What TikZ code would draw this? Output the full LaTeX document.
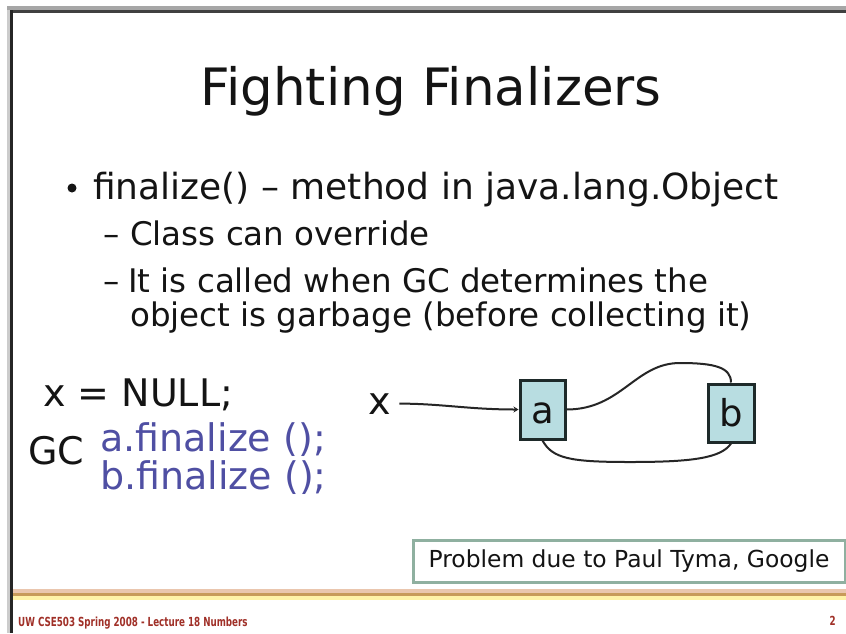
\documentclass[tikz,border=0pt]{standalone}
\usepackage{fontspec}
\setmainfont{DejaVu Sans}
\newfontfamily\footf[FakeStretch=0.7]{DejaVu Sans}
\usetikzlibrary{arrows.meta}
\definecolor{textc}{HTML}{141414}
\definecolor{codeblue}{HTML}{4F4FA3}
\definecolor{boxfill}{HTML}{B8DDE1}
\definecolor{boxline}{HTML}{1E2A2A}
\definecolor{probline}{HTML}{8FB0A0}
\definecolor{tan}{HTML}{C89A5A}
\definecolor{pinkish}{HTML}{EAC6AE}
\definecolor{yel}{HTML}{FFF2A8}
\definecolor{footred}{HTML}{A03028}
\tikzset{
  txt/.style={inner sep=0pt, anchor=base west, text=textc},
  titletxt/.style={txt, anchor=base, font=\fontsize{51.5}{60}\selectfont},
  lone/.style={txt, font=\fontsize{36}{44}\selectfont},
  ltwo/.style={txt, font=\fontsize{32.5}{40}\selectfont},
  code/.style={txt, font=\fontsize{38}{46}\selectfont},
  objbox/.style={draw=boxline, line width=3pt, fill=boxfill, inner sep=0pt,
    font=\fontsize{37}{44}\selectfont, text=textc, text height=27pt, text depth=0pt},
  conn/.style={draw=black!85, line width=2pt},
  probbox/.style={draw=probline, line width=3pt, fill=white, inner sep=0pt,
    minimum width=432pt, minimum height=42pt, text=textc,
    font=\fontsize{23.4}{28}\selectfont},
  foot/.style={inner sep=0pt, anchor=base west, text=footred, font=\footf\bfseries\fontsize{12.5}{14}\selectfont}
}
\begin{document}
\begin{tikzpicture}[x=1pt,y=-1pt]
\useasboundingbox (0,0) rectangle (846,633);
\fill[white] (0,0) rectangle (846,633);
% frame
\fill[black!35] (7,6) rectangle (846,10);
\fill[black!75] (7,10) rectangle (846,13);
\fill[black!20] (7,10) rectangle (10,633);
\fill[black!85] (10,10) rectangle (13,633);
% title
\node[titletxt] (title) at (431,105) {Fighting Finalizers};
% bullets
\node[circle, fill=textc, inner sep=0pt, minimum size=9pt] (bul) at (72,188) {};
\node[lone] (t1) at (93,199) {finalize() – method in java.lang.Object};
\node[ltwo] (d2) at (103,245) {–};
\node[ltwo] (t2) at (130,245) {Class can override};
\node[ltwo] (d3) at (103,292) {–};
\node[ltwo] (t3) at (128,292) {It is called when GC determines the};
\node[ltwo] (t4) at (130,326) {object is garbage (before collecting it)};
% code
\node[code] (xnull) at (43,406) {x = NULL;};
\node[code] (gc) at (28,464) {GC};
\node[code, text=codeblue] (af) at (100,451) {a.finalize ();};
\node[code, text=codeblue] (bf) at (100,489) {b.finalize ();};
% diagram
\node[code, anchor=base] (x) at (380,414) {x};
\node[objbox, minimum width=45pt, minimum height=59pt] (a) at (542.5,409.5) {a};
\node[objbox, minimum width=46pt, minimum height=58pt] (b) at (731,413) {b};
\draw[conn, -{Stealth[length=5pt,width=6pt]}, shorten <=8pt] (x.east) to[out=0,in=180] (a.west);
\draw[conn] (a.east) .. controls +(55,0) and +(-45,0) .. (680,363) .. controls +(35,0) and +(0,-15) .. (b.north);
\draw[conn] (a.south) .. controls +(10,18) and +(-60,0) .. (630,462) .. controls +(60,0) and +(-10,15) .. (b.south);
% note
\node[probbox] (prob) at (629,561) {Problem due to Paul Tyma, Google};
% footer
\fill[pinkish] (13,589) rectangle (846,593);
\fill[tan] (13,593) rectangle (846,596);
\fill[yel] (13,596) rectangle (846,600);
\node[foot] (ft) at (18,626) {UW CSE503 Spring 2008 - Lecture 18 Numbers};
\node[foot, anchor=base east] (pg) at (836,625) {2};
\end{tikzpicture}
\end{document}
